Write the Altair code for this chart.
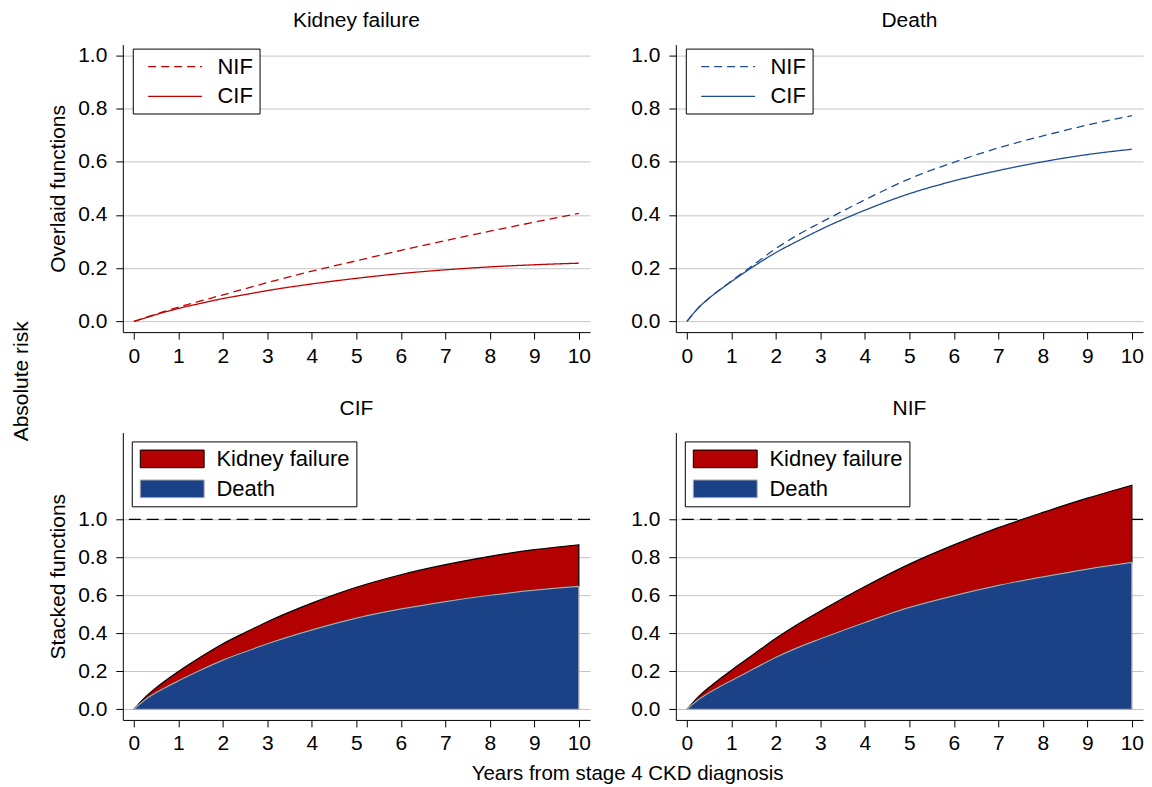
import altair as alt
import pandas as pd

# ---- data ----
years = [0, 0.25, 0.5, 0.75, 1, 1.5, 2, 2.5, 3, 4, 5, 6, 7, 8, 9, 10]
kf_nif = [0, 0.014, 0.028, 0.041, 0.054, 0.077, 0.100, 0.123, 0.146, 0.189, 0.228, 0.267, 0.304, 0.339, 0.373, 0.406]
kf_cif = [0, 0.013, 0.026, 0.038, 0.049, 0.068, 0.086, 0.101, 0.116, 0.141, 0.162, 0.180, 0.194, 0.205, 0.213, 0.219]
death_nif = [0, 0.050, 0.088, 0.121, 0.152, 0.213, 0.274, 0.326, 0.371, 0.457, 0.536, 0.598, 0.652, 0.697, 0.738, 0.773]
death_cif = [0, 0.050, 0.088, 0.120, 0.150, 0.207, 0.259, 0.303, 0.345, 0.418, 0.480, 0.528, 0.567, 0.600, 0.627, 0.647]

x_ticks = [0, 1, 2, 3, 4, 5, 6, 7, 8, 9, 10]
y_ticks = [0.0, 0.2, 0.4, 0.6, 0.8, 1.0]
fn_types = ["NIF", "CIF"]
outcomes = ["Kidney failure", "Death"]

RED_LINE = "#c00000"
BLUE_LINE = "#1f4a94"
RED_FILL = "#b30000"
BLUE_FILL = "#1b4187"
FONT = "Liberation Sans"

W, H = 468, 288
x_scale = alt.Scale(domain=[-0.25, 10.25], nice=False, zero=False)
x_axis = alt.Axis(values=x_ticks, title=None, format="d")


def y_axis(title):
    if title:
        return alt.Axis(values=y_ticks, format=".1f", title=title)
    return alt.Axis(values=y_ticks, format=".1f", title=None)


def top_panel(title, color, nif, cif, ytitle):
    df = pd.DataFrame({
        "year": years + years,
        "risk": nif + cif,
        "type": ["NIF"] * len(years) + ["CIF"] * len(years),
    })
    return alt.Chart(df).mark_line(color=color, strokeWidth=1.3, interpolate="monotone").encode(
        x=alt.X("year:Q", scale=x_scale, axis=x_axis),
        y=alt.Y("risk:Q", scale=alt.Scale(domain=[-0.04, 1.04], nice=False, zero=False), axis=y_axis(ytitle)),
        strokeDash=alt.StrokeDash(
            "type:N",
            scale=alt.Scale(domain=fn_types, range=[[8, 5], [1, 0]]),
            sort=fn_types,
            legend=alt.Legend(
                title=None, orient="none", legendX=10, legendY=4,
                symbolType="M-2.4545,0H2.4545", symbolSize=484,
                symbolStrokeColor=color, symbolStrokeWidth=1.3, symbolFillColor="transparent",
                symbolOffset=24.4, labelOffset=30.4, rowPadding=6.8, padding=6,
                labelExpr="datum.label + '\u00a0\u2009'",
                strokeColor="black", fillColor="white", labelFontSize=22, labelFont=FONT,
            ),
        ),
    ).properties(width=W, height=H, title=title)


def bottom_panel(title, death, kf, ytitle):
    total = [d + k for d, k in zip(death, kf)]
    df = pd.DataFrame({
        "year": years + years,
        "lo": death + [0.0] * len(years),
        "hi": total + death,
        "series": ["Kidney failure"] * len(years) + ["Death"] * len(years),
    })
    y_scale = alt.Scale(domain=[-0.056, 1.457], nice=False, zero=False)
    leg = alt.Legend(
        title=None, orient="none", legendX=9, legendY=9,
        symbolType="M-3.02,-0.835H3.02V0.835H-3.02Z", symbolSize=449, symbolStrokeWidth=1,
        symbolOffset=23, labelOffset=32.8, rowPadding=7, padding=6,
        strokeColor="black", fillColor="white", labelFontSize=22, labelFont=FONT,
    )
    color = alt.Color("series:N", scale=alt.Scale(domain=outcomes, range=[RED_FILL, BLUE_FILL]), legend=leg)
    stroke = alt.Stroke("series:N", scale=alt.Scale(domain=outcomes, range=["black", "#aaaaaa"]), legend=leg)

    ref = alt.Chart(pd.DataFrame({"r": [1.0]})).mark_rule(color="black", strokeDash=[12, 6], strokeWidth=1.3).encode(
        y=alt.Y("r:Q", scale=y_scale, axis=y_axis(ytitle)),
    )
    base = alt.Chart(df).mark_area(interpolate="monotone", strokeWidth=1.2, opacity=1).encode(
        x=alt.X("year:Q", scale=x_scale, axis=x_axis),
        y=alt.Y("hi:Q", scale=y_scale, axis=y_axis(ytitle)),
        y2="lo:Q",
        color=color,
        stroke=stroke,
    )
    kf_layer = base.transform_filter(alt.datum.series == "Kidney failure")
    death_layer = base.transform_filter(alt.datum.series == "Death")
    return alt.layer(ref, kf_layer, death_layer).properties(width=W, height=H, title=title)


tl = top_panel("Kidney failure", RED_LINE, kf_nif, kf_cif, "Overlaid functions")
tr = top_panel("Death", BLUE_LINE, death_nif, death_cif, None)
bl = bottom_panel("CIF", death_cif, kf_cif, "Stacked functions")
br = bottom_panel("NIF", death_nif, kf_nif, None)

res = dict(color="independent", stroke="independent", strokeDash="independent", x="independent", y="independent")
leg_res = dict(color="independent", stroke="independent", strokeDash="independent")
row1 = alt.hconcat(tl, tr, spacing=39).resolve_scale(**res).resolve_legend(**leg_res)
row2 = alt.hconcat(bl, br, spacing=39).resolve_scale(**res).resolve_legend(**leg_res)
grid = alt.vconcat(
    row1, row2, spacing=32.5,
    title=alt.TitleParams("Years from stage 4 CKD diagnosis", orient="bottom", anchor="middle",
                          fontSize=20.5, fontWeight="normal", font=FONT, color="black", offset=10, dx=32),
).resolve_scale(**res).resolve_legend(**leg_res)
chart = alt.hconcat(
    grid,
    title=alt.TitleParams("Absolute risk", orient="left", anchor="middle", fontSize=21,
                          fontWeight="normal", font=FONT, color="black", offset=16, dx=16),
).resolve_scale(**res).resolve_legend(**leg_res).properties(
    padding={"top": 1, "left": 2, "right": 0, "bottom": 0}
).configure_view(
    stroke=None
).configure_axis(
    domainColor="black", tickColor="black", tickSize=7, domainWidth=1, tickWidth=1,
    labelFont=FONT, labelFontSize=21, labelColor="black", labelPadding=9,
    titleFont=FONT, titleFontSize=21, titleFontWeight="normal", titleColor="black", titlePadding=9,
    gridColor="#c4c4c4", gridWidth=1,
).configure_axisX(grid=False, labelPadding=6).configure_title(
    font=FONT, fontSize=21, fontWeight="normal", color="black", offset=13
).configure_legend(labelFont=FONT, labelFontSize=22)

chart.save("out.html", embed_options={"renderer": "svg", "actions": False})
